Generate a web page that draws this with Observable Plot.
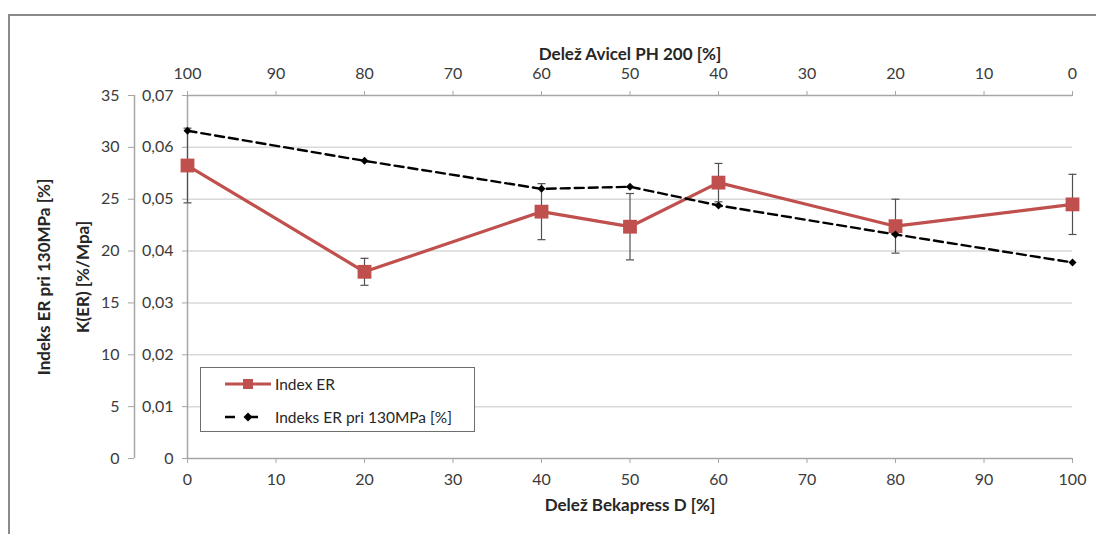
<!DOCTYPE html>
<html>
<head>
<meta charset="utf-8">
<script src="https://cdn.jsdelivr.net/npm/d3@7"></script>
<script src="https://cdn.jsdelivr.net/npm/@observablehq/plot@0.6"></script>
<style>
  html, body { margin: 0; padding: 0; background: #fff; }
  body { width: 1096px; height: 534px; position: relative; overflow: hidden; font-family: Lato, "Open Sans", sans-serif; }
  #frame { position: absolute; left: 8px; top: 14px; width: 1200px; height: 700px; border-top: 2px solid #8a8a8a; border-left: 2px solid #8a8a8a; box-sizing: border-box; }
  #chart { position: absolute; left: 0; top: 0; }
  #legend { position: absolute; left: 200px; top: 367px; width: 275px; height: 65px; border: 1px solid #6e6e6e; background: #fff; box-sizing: border-box; }
  .row { position: absolute; left: 0; height: 20px; display: flex; align-items: center; font-size: 15.5px; color: #262626; }
  .row svg { margin-left: 23px; margin-right: 3px; }
</style>
</head>
<body>
<div id="frame"></div>
<div id="chart"></div>
<div id="legend">
  <div class="row" style="top:6px"><svg width="48" height="20"><line x1="1" y1="10" x2="47" y2="10" stroke="#C0504D" stroke-width="3"/><rect x="19" y="5" width="10" height="10" fill="#C0504D"/></svg><span>Index ER</span></div>
  <div class="row" style="top:39px"><svg width="48" height="20"><line x1="1" y1="10" x2="47" y2="10" stroke="#000" stroke-width="2.5" stroke-dasharray="10,13"/><path d="M24,5.5L28.5,10L24,14.5L19.5,10Z" fill="#000"/></svg><span>Indeks ER pri 130MPa [%]</span></div>
</div>
<script>
// Share of Bekapress D in the blend [%]
const bekapress = [0, 20, 40, 50, 60, 80, 100];
// Index ER, K(ER) [%/MPa], with its standard deviation
const indexER = [0.0565, 0.0360, 0.0476, 0.0447, 0.0532, 0.0448, 0.0490];
const indexERsd = [0.0072, 0.0026, 0.0054, 0.0064, 0.0037, 0.0052, 0.0058];
// Indeks ER pri 130MPa [%]
const indeks130 = [31.6, 28.7, 26.0, 26.2, 24.4, 21.6, 18.9];

// Axis ticks
const xTicks = [0, 10, 20, 30, 40, 50, 60, 70, 80, 90, 100];
const avicelLabels = ["100", "90", "80", "70", "60", "50", "40", "30", "20", "10", "0"];
const yTicks = [0, 5, 10, 15, 20, 25, 30, 35];
const kLabels = ["0", "0,01", "0,02", "0,03", "0,04", "0,05", "0,06", "0,07"];

// Both left axes share one position scale: 0,07 %/MPa sits level with 35 %
const kToPct = 35 / 0.07;

const erRows = bekapress.map((x, i) => ({x, k: indexER[i], sd: indexERsd[i]}));
const pctRows = bekapress.map((x, i) => ({x, v: indeks130[i]}));

const capSymbol = {draw(ctx) { ctx.moveTo(-4, 0); ctx.lineTo(4, 0); }};

const axisColor = "#a6a6a6";
const labelColor = "#3b3b3b";
const titleStyle = {fontWeight: "bold", fontSize: 17, fill: "#262626", textAnchor: "middle"};

const chart = Plot.plot({
  width: 1096,
  height: 534,
  marginLeft: 187,
  marginRight: 24,
  marginTop: 95,
  marginBottom: 76,
  style: {fontFamily: "Lato, 'Open Sans', sans-serif", fontSize: "16px", color: labelColor, background: "transparent"},
  x: {domain: [0, 100]},
  y: {domain: [0, 35]},
  marks: [
    Plot.gridY(yTicks.filter(t => t > 0 && t < 35), {stroke: "#d9d9d9", strokeOpacity: 1, strokeWidth: 1.5}),
    // axis lines
    Plot.ruleY([0], {stroke: axisColor, strokeWidth: 1.5}),
    Plot.ruleY([35], {stroke: axisColor, strokeWidth: 1.5}),
    Plot.ruleX([0], {stroke: axisColor, strokeWidth: 1.5}),
    Plot.ruleX([0], {y1: 0, y2: 35, dx: -53, stroke: axisColor, strokeWidth: 1.5}),
    // bottom: Bekapress D
    Plot.axisX({anchor: "bottom", ticks: xTicks, tickSize: 5, tickPadding: 10, stroke: axisColor, fill: labelColor, label: null}),
    // top: Avicel PH 200 (complement of Bekapress D)
    Plot.axisX({anchor: "top", ticks: xTicks, tickFormat: (d, i) => avicelLabels[i], tickSize: 5, tickPadding: 12, stroke: axisColor, fill: labelColor, label: null}),
    // inner left: K(ER)
    Plot.axisY({anchor: "left", ticks: yTicks, tickFormat: (d, i) => kLabels[i], tickSize: 5, tickPadding: 9, stroke: axisColor, fill: labelColor, label: null}),
    // outer left: Indeks ER pri 130MPa
    Plot.axisY({anchor: "left", ticks: yTicks, tickSize: 6, tickPadding: 9, dx: -53, stroke: axisColor, fill: labelColor, label: null}),
    // axis titles
    Plot.text(["Delež Avicel PH 200 [%]"], {frameAnchor: "top", dy: -48, ...titleStyle}),
    Plot.text(["Delež Bekapress D [%]"], {frameAnchor: "bottom", dy: 52, ...titleStyle}),
    Plot.text(["K(ER) [%/Mpa]"], {frameAnchor: "left", dx: -104, rotate: -90, ...titleStyle}),
    Plot.text(["Indeks ER pri 130MPa [%]"], {frameAnchor: "left", dx: -143, rotate: -90, ...titleStyle}),
    // error bars of Index ER
    Plot.ruleX(erRows, {x: "x", y1: d => (d.k - d.sd) * kToPct, y2: d => (d.k + d.sd) * kToPct, stroke: "#505050", strokeWidth: 1.2}),
    Plot.dot(erRows, {x: "x", y: d => (d.k - d.sd) * kToPct, symbol: capSymbol, stroke: "#505050", strokeWidth: 1.2, fill: "none"}),
    Plot.dot(erRows, {x: "x", y: d => (d.k + d.sd) * kToPct, symbol: capSymbol, stroke: "#505050", strokeWidth: 1.2, fill: "none"}),
    // Index ER
    Plot.line(erRows, {x: "x", y: d => d.k * kToPct, stroke: "#C0504D", strokeWidth: 3.2}),
    Plot.dot(erRows, {x: "x", y: d => d.k * kToPct, symbol: "square", r: 7.8, fill: "#C0504D", stroke: "none"}),
    // Indeks ER pri 130MPa
    Plot.line(pctRows, {x: "x", y: "v", stroke: "#000", strokeWidth: 2.4, strokeDasharray: "9,5"}),
    Plot.dot(pctRows, {x: "x", y: "v", symbol: "diamond2", r: 3.6, fill: "#000", stroke: "none"})
  ]
});
document.getElementById("chart").appendChild(chart);
</script>
</body>
</html>
